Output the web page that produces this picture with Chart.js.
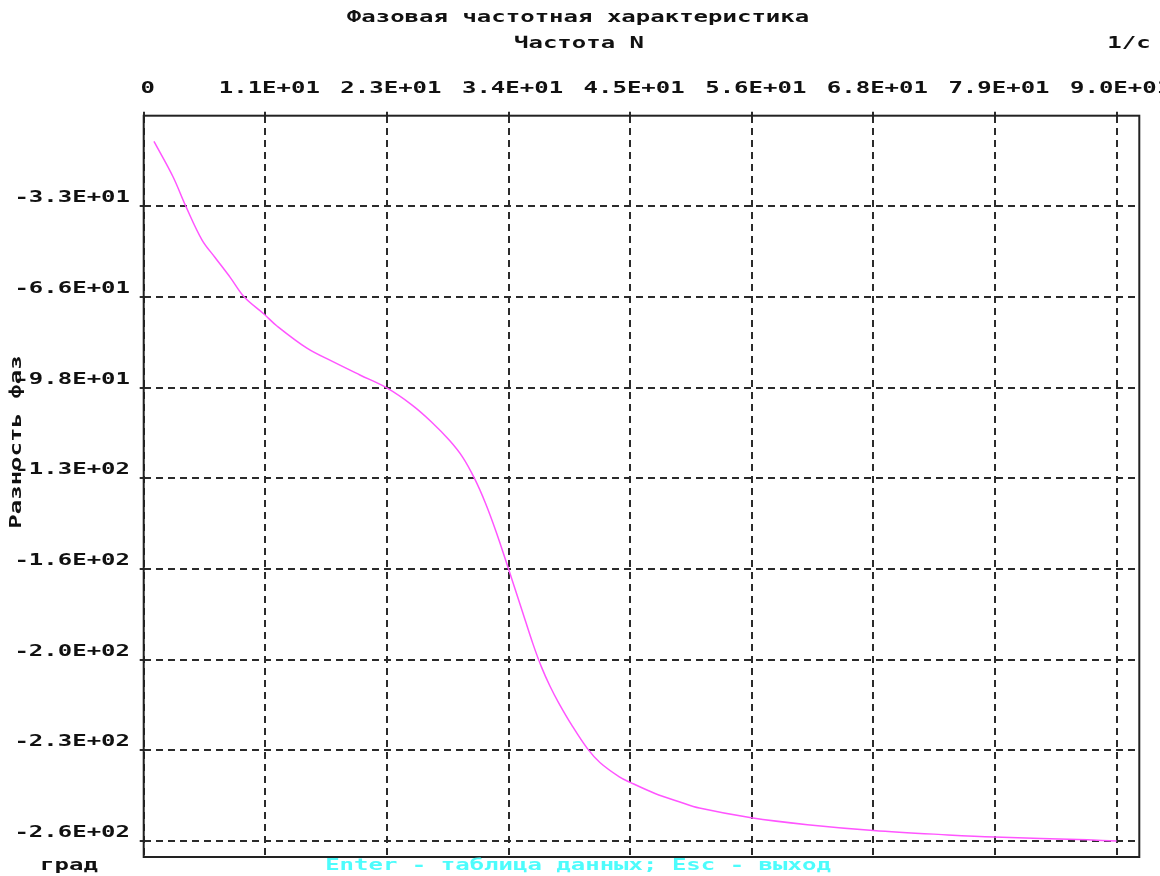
<!DOCTYPE html>
<html>
<head>
<meta charset="utf-8">
<title>Фазовая частотная характеристика</title>
<script src="https://cdn.jsdelivr.net/npm/chart.js@4/dist/chart.umd.min.js"></script>
<style>
  body { margin: 0; background: #fff; }
  canvas { display: block; }
</style>
</head>
<body>
<canvas id="chart" width="1160" height="876"></canvas>
<script>
// Частота N, 1/с
const freq = [0.95, 2.7, 3.9, 5.4, 6.6, 8.0, 9.3, 11.2, 12.3, 15.1, 17.5, 20.0, 22.45,
  24.8, 26.6, 28.3, 29.5, 30.6, 31.6, 32.6, 33.75, 35.0, 36.0, 36.8, 37.6, 38.4, 39.6, 41.05, 42.2, 44.0,
  45.0, 47.3, 49.6, 51.4, 56.2, 61.4, 67.5, 74.4, 78.7, 87.3, 90.0];
// Разность фаз, град
const phase = [-9.3, -22.0, -32.8, -45.0, -51.3, -58.5, -65.6, -72.0, -76.0, -84.1, -89.0, -93.8, -98.4,
  -104.6, -110.7, -117.5, -123.5, -131.2, -140.0, -150.5, -164.0, -179.0, -191.0, -199.5, -206.5, -212.5, -220.5, -229.0, -234.0, -239.2,
  -241.2, -245.2, -248.3, -250.5, -254.0, -256.5, -258.6, -260.2, -261.0, -262.0, -262.4];

const xTicks = [0, 11.25, 22.5, 33.75, 45, 56.25, 67.5, 78.75, 90];
const xTickLabels = ["0", "1.1E+01", "2.3E+01", "3.4E+01", "4.5E+01", "5.6E+01", "6.8E+01", "7.9E+01", "9.0E+01"];
const yTicks = [-32.8, -65.6, -98.4, -131.2, -164, -196.8, -229.6, -262.4];
const yTickLabels = ["-3.3E+01", "-6.6E+01", "-9.8E+01", "-1.3E+02", "-1.6E+02", "-2.0E+02", "-2.3E+02", "-2.6E+02"];

const FONT = '"DejaVu Sans Mono", monospace';
const STRETCH = 1.6; // old DOS font is wide

// draw text stretched horizontally
function wideText(ctx, text, x, y, opts) {
  opts = opts || {};
  ctx.save();
  ctx.translate(x, y);
  if (opts.rotate) ctx.rotate(opts.rotate);
  ctx.scale(STRETCH, 1);
  ctx.font = (opts.weight || "bold") + " 15px " + FONT;
  ctx.fillStyle = opts.color || "#111";
  ctx.textAlign = opts.align || "center";
  ctx.textBaseline = "middle";
  ctx.fillText(text, 0, 0);
  ctx.restore();
}

const dosLabels = {
  id: "dosLabels",
  afterDraw(chart) {
    const ctx = chart.ctx;
    const area = chart.chartArea;
    const xs = chart.scales.x;
    const ys = chart.scales.y;

    // frame
    ctx.save();
    ctx.strokeStyle = "#222";
    ctx.lineWidth = 2;
    ctx.strokeRect(area.left, area.top, area.right - area.left, area.bottom - area.top);
    ctx.restore();

    // tick labels
    xTicks.forEach((v, i) => {
      wideText(ctx, xTickLabels[i], xs.getPixelForValue(v) + 4, 89);
    });
    yTicks.forEach((v, i) => {
      wideText(ctx, yTickLabels[i], 130, ys.getPixelForValue(v) - 8, { align: "right" });
    });

    // titles
    wideText(ctx, "Фазовая частотная характеристика", 578, 18);
    wideText(ctx, "Частота N", 579, 44);
    wideText(ctx, "1/с", 1129, 44);
    wideText(ctx, "град", 69, 866);
    wideText(ctx, "Разность фаз", 17, 442, { rotate: -Math.PI / 2 });
    wideText(ctx, "Enter - таблица данных; Esc - выход", 578, 866, { color: "#4dfcfc" });
  }
};

const gridOpts = {
  color: "#2b2b2b",
  lineWidth: 2,
  tickLength: 4,
  tickWidth: 2,
  tickColor: "#2b2b2b",
};

const chart = new Chart(document.getElementById("chart"), {
  type: "line",
  data: {
    datasets: [{
      data: freq.map((f, i) => ({ x: f, y: phase[i] })),
      borderColor: "#ff55ff",
      borderWidth: 1.5,
      pointRadius: 0,
      tension: 0.35,
      fill: false,
    }],
  },
  options: {
    responsive: false,
    animation: false,
    events: [],
    layout: { padding: { left: 139.7, top: 111.7, right: 20.7, bottom: 19 } },
    plugins: {
      legend: { display: false },
      tooltip: { enabled: false },
      title: { display: false },
    },
    scales: {
      x: {
        type: "linear",
        position: "top",
        min: 0,
        max: 92.1,
        afterBuildTicks: (s) => { s.ticks = xTicks.map((v) => ({ value: v })); },
        afterFit: (s) => { s.height = 4; },
        ticks: { display: false },
        grid: gridOpts,
        border: { display: false, dash: [7, 5] },
      },
      y: {
        type: "linear",
        min: -268.2,
        max: 0,
        afterBuildTicks: (s) => { s.ticks = yTicks.map((v) => ({ value: v })); },
        afterFit: (s) => { s.width = 4; },
        ticks: { display: false },
        grid: gridOpts,
        border: { display: false, dash: [7, 5] },
      },
    },
  },
  plugins: [dosLabels],
});
</script>
</body>
</html>
